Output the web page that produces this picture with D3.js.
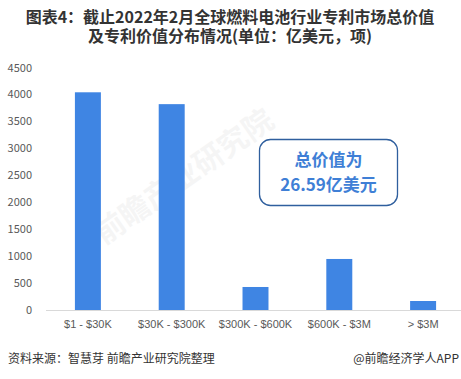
<!DOCTYPE html>
<html>
<head>
<meta charset="utf-8">
<script src="https://cdn.jsdelivr.net/npm/d3@7"></script>
<style>
body{margin:0;background:#fff;}
svg{display:block;font-family:"Noto Sans CJK SC","Liberation Sans",sans-serif;}
</style>
</head>
<body>
<div id="chart"></div>
<script>
// data
var categories=['$1 - $30K','$30K - $300K','$300K - $600K','$600K - $3M','> $3M']
var counts=[4040,3820,427,947,167]
var yTicks=[0,500,1000,1500,2000,2500,3000,3500,4000,4500]

var svgW=461, svgH=379
var svg=d3.select('#chart').append('svg')
    .attr('width',svgW)
    .attr('height',svgH)

// title
var title=svg.append('text')
    .attr('text-anchor','middle')
    .attr('font-size',16)
    .attr('font-weight','bold')
    .attr('fill','#333')
title.append('tspan').attr('x',230).attr('y',23).text('图表4：截止2022年2月全球燃料电池行业专利市场总价值')
title.append('tspan').attr('x',230).attr('y',42).text('及专利价值分布情况(单位：亿美元，项)')

// watermark
svg.append('text')
    .attr('transform','translate(190,185) rotate(-35)')
    .attr('text-anchor','middle')
    .attr('font-size',30)
    .attr('font-weight','bold')
    .attr('fill','#000')
    .attr('opacity',0.035)
    .text('前瞻产业研究院')

var x=d3.scaleBand()
    .domain(categories)
    .range([46,465])
    .paddingInner(0.69)
    .paddingOuter(0.345)
var y=d3.scaleLinear()
    .domain([0,4500])
    .range([310,67.5])

// y labels
svg.append('g').selectAll('text')
    .data(yTicks)
    .join('text')
    .attr('x',32)
    .attr('y',d=>y(d)+4)
    .attr('text-anchor','end')
    .attr('font-size',11)
    .attr('fill','#595959')
    .text(d=>d)

// bars
svg.append('g').selectAll('rect')
    .data(counts)
    .join('rect')
    .attr('x',(d,i)=>x(categories[i]))
    .attr('width',x.bandwidth())
    .attr('y',d=>y(d))
    .attr('height',d=>y(0)-y(d))
    .attr('fill','#3f85e3')

// x axis
var xaxis=d3.axisBottom(x).tickSize(0).tickPadding(10)
var gx=svg.append('g')
    .attr('transform','translate(0,310)')
    .call(xaxis)
gx.select('.domain').attr('stroke','#d9d9d9').attr('d','M46,0.5H461')
gx.selectAll('text')
    .attr('font-size',11)
    .attr('fill','#595959')
    .attr('font-family','"Liberation Sans",sans-serif')

// note box
svg.append('rect')
    .attr('x',259.5).attr('y',139.5)
    .attr('width',138).attr('height',66)
    .attr('rx',11)
    .attr('fill','#fff')
    .attr('stroke','#2f5f9e')
    .attr('stroke-width',1.3)
svg.append('text')
    .attr('x',328.5).attr('y',166)
    .attr('text-anchor','middle')
    .attr('font-size',17)
    .attr('font-weight','bold')
    .attr('fill','#3f7fd6')
    .text('总价值为')
svg.append('text')
    .attr('x',328.5).attr('y',191)
    .attr('text-anchor','middle')
    .attr('font-size',17)
    .attr('font-weight','bold')
    .attr('fill','#3f7fd6')
    .text('26.59亿美元')

// footer
svg.append('text')
    .attr('x',8).attr('y',363)
    .attr('font-size',12)
    .attr('fill','#333')
    .text('资料来源：智慧芽 前瞻产业研究院整理')
svg.append('text')
    .attr('x',459).attr('y',363)
    .attr('text-anchor','end')
    .attr('font-size',12)
    .attr('fill','#333')
    .text('@前瞻经济学人APP')
</script>
</body>
</html>
